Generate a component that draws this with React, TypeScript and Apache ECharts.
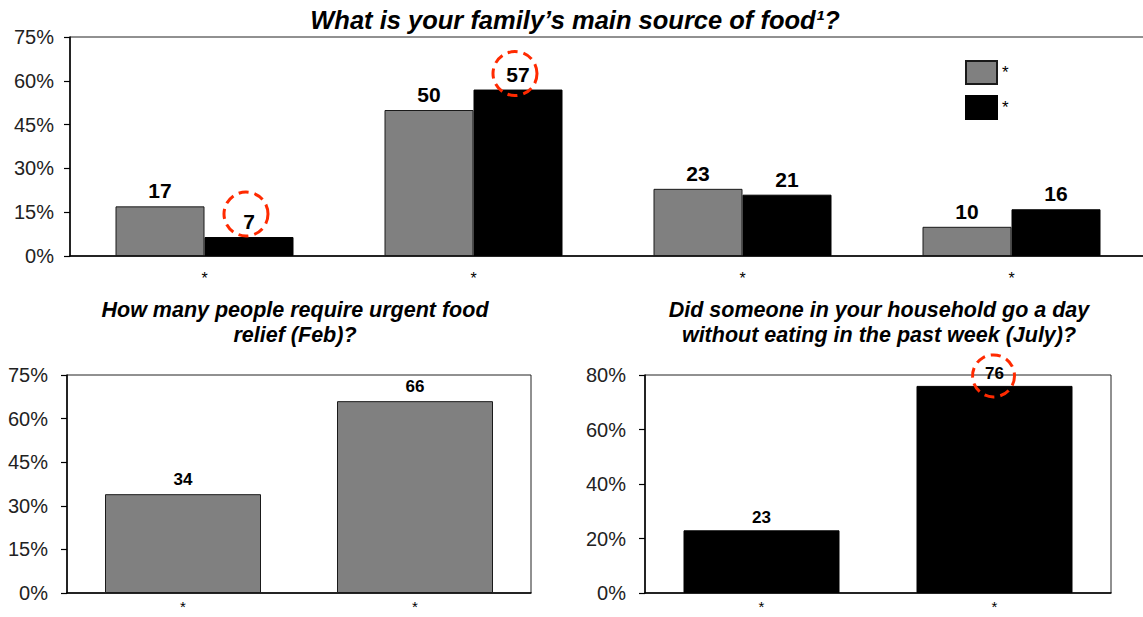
import React, { useEffect, useRef } from "react";
import * as echarts from "echarts";

const topCategories = ["*", "*", "*", "*"];
const topSeriesNames = ["*", "*"];
const topGray = [17, 50, 23, 10];
const topBlack = [6.5, 57, 21, 16];
const topTicks = { min: 0, max: 75, interval: 15 };

const reliefCategories = ["*", "*"];
const reliefValues = [34, 66];
const reliefTicks = { min: 0, max: 75, interval: 15 };

const hungerCategories = ["*", "*"];
const hungerValues = [23, 76];
const hungerTicks = { min: 0, max: 80, interval: 20 };

const FONT = "'Liberation Sans', Arial, Helvetica, sans-serif";
const NARROW = "'Liberation Sans Narrow', 'Arial Narrow', 'Liberation Sans', Arial, sans-serif";
const RED = "#ff2a00";

// highlighted values: [gridIndex, seriesIndex, categoryIndex, value, barOffsetX, dx, dy, r]
const highlights: [number, number, number, number, number, number, number, number][] = [
  [0, 1, 0, 6.5, 44.5, -3, -23, 22],
  [0, 1, 1, 57, 44.5, -3, -16, 22],
  [2, 3, 1, 76, 0, -1, -10, 21],
];

function yAxis(gridIndex: number, t: { min: number; max: number; interval: number }, margin: number) {
  return {
    type: "value",
    gridIndex,
    min: t.min,
    max: t.max,
    interval: t.interval,
    axisLine: { show: true, lineStyle: { color: "#000", width: 1.5 } },
    axisTick: { show: true, inside: false, length: 6, lineStyle: { color: "#000", width: 1.2 } },
    splitLine: { show: false },
    axisLabel: {
      formatter: "{value}%",
      fontFamily: FONT,
      fontSize: 20,
      color: "#222",
      margin,
    },
  };
}

function xAxis(gridIndex: number, data: string[], margin: number, fontSize: number) {
  return {
    type: "category",
    gridIndex,
    data,
    axisLine: { show: true, lineStyle: { color: "#000", width: 1.5 } },
    axisTick: { show: false },
    axisLabel: { fontFamily: FONT, fontSize, color: "#000", margin },
  };
}

export default function App() {
  const ref = useRef<HTMLDivElement>(null);
  useEffect(() => {
    if (!ref.current) return;
    const chart = echarts.init(ref.current, null, { renderer: "svg" });
    const titleStyle = {
      fontFamily: FONT,
      fontWeight: "bold",
      fontStyle: "italic",
      color: "#000",
    };
    const gridBase = { show: true, borderColor: "#222", borderWidth: 1, outerBoundsMode: "none", containLabel: false };
    chart.setOption({
      animation: false,
      backgroundColor: "#fff",
      title: [
        {
          text: "What is your family’s main source of food¹?",
          left: 570,
          top: 2,
          textAlign: "center",
          textStyle: { ...titleStyle, fontSize: 25.5 },
        },
        {
          text: "How many people require urgent food\nrelief (Feb)?",
          left: 290,
          top: 292,
          textAlign: "center",
          textStyle: { ...titleStyle, fontSize: 21.5, lineHeight: 25 },
        },
        {
          text: "Did someone in your household go a day\nwithout eating in the past week (July)?",
          left: 874,
          top: 292,
          textAlign: "center",
          textStyle: { ...titleStyle, fontSize: 21.5, lineHeight: 25 },
        },
      ],
      legend: {
        orient: "vertical",
        left: 965,
        top: 60,
        padding: 0,
        itemWidth: 31,
        itemHeight: 23,
        itemGap: 10,
        icon: "rect",
        data: topSeriesNames.map((n, i) => ({ name: i === 0 ? n : n + " " })),
        textStyle: { fontFamily: FONT, fontSize: 17, color: "#000" },
        selectedMode: false,
      },
      grid: [
        { ...gridBase, left: 70, top: 37, width: 1076, height: 219 },
        { ...gridBase, left: 67, top: 375, width: 464, height: 218 },
        { ...gridBase, left: 645, top: 375, width: 466, height: 218 },
      ],
      xAxis: [
        xAxis(0, topCategories, 14, 16),
        xAxis(1, reliefCategories, 6, 15),
        xAxis(2, hungerCategories, 6, 15),
      ],
      yAxis: [yAxis(0, topTicks, 16), yAxis(1, reliefTicks, 19), yAxis(2, hungerTicks, 19)],
      series: [
        {
          type: "bar",
          name: topSeriesNames[0],
          xAxisIndex: 0,
          yAxisIndex: 0,
          data: topGray,
          barWidth: 89,
          barGap: "0%",
          itemStyle: { color: "#808080", borderColor: "#1a1a1a", borderWidth: 1 },
          label: {
            show: true,
            position: "top",
            distance: 5,
            formatter: (p: any) => String(Math.round(p.value)),
            fontFamily: FONT,
            fontWeight: "bold",
            fontSize: 21,
            color: "#000",
          },
        },
        {
          type: "bar",
          name: topSeriesNames[1] + " ",
          xAxisIndex: 0,
          yAxisIndex: 0,
          data: topBlack,
          barWidth: 89,
          barGap: "0%",
          itemStyle: { color: "#000", borderColor: "#000", borderWidth: 1 },
          label: {
            show: true,
            position: "top",
            distance: 5,
            formatter: (p: any) => String(Math.round(p.value)),
            fontFamily: FONT,
            fontWeight: "bold",
            fontSize: 21,
            color: "#000",
          },
        },
        {
          type: "bar",
          name: "relief",
          xAxisIndex: 1,
          yAxisIndex: 1,
          data: reliefValues,
          barWidth: 156,
          itemStyle: { color: "#808080", borderColor: "#1a1a1a", borderWidth: 1 },
          label: {
            show: true,
            position: "top",
            distance: 6,
            fontFamily: NARROW,
            fontWeight: "bold",
            fontSize: 17,
            color: "#000",
          },
        },
        {
          type: "bar",
          name: "hunger",
          xAxisIndex: 2,
          yAxisIndex: 2,
          data: hungerValues,
          barWidth: 156,
          itemStyle: { color: "#000", borderColor: "#000", borderWidth: 1 },
          label: {
            show: true,
            position: "top",
            distance: 4,
            fontFamily: NARROW,
            fontWeight: "bold",
            fontSize: 17,
            color: "#000",
          },
        },
      ],
    });

    const circles = highlights.map(([g, s, c, v, off, dx, dy, r]) => {
      const pt = chart.convertToPixel({ xAxisIndex: g, yAxisIndex: g }, [c, v]) as number[];
      return {
        type: "circle",
        silent: true,
        z: 100,
        shape: { cx: pt[0] + off + dx, cy: pt[1] + dy, r },
        style: { fill: "none", stroke: RED, lineWidth: 3, lineDash: [10, 6] },
      };
    });
    chart.setOption({ graphic: circles });

    return () => chart.dispose();
  }, []);
  return (
    <div
      ref={ref}
      style={{ position: "fixed", left: 0, top: 0, width: 1143, height: 617 }}
    />
  );
}
